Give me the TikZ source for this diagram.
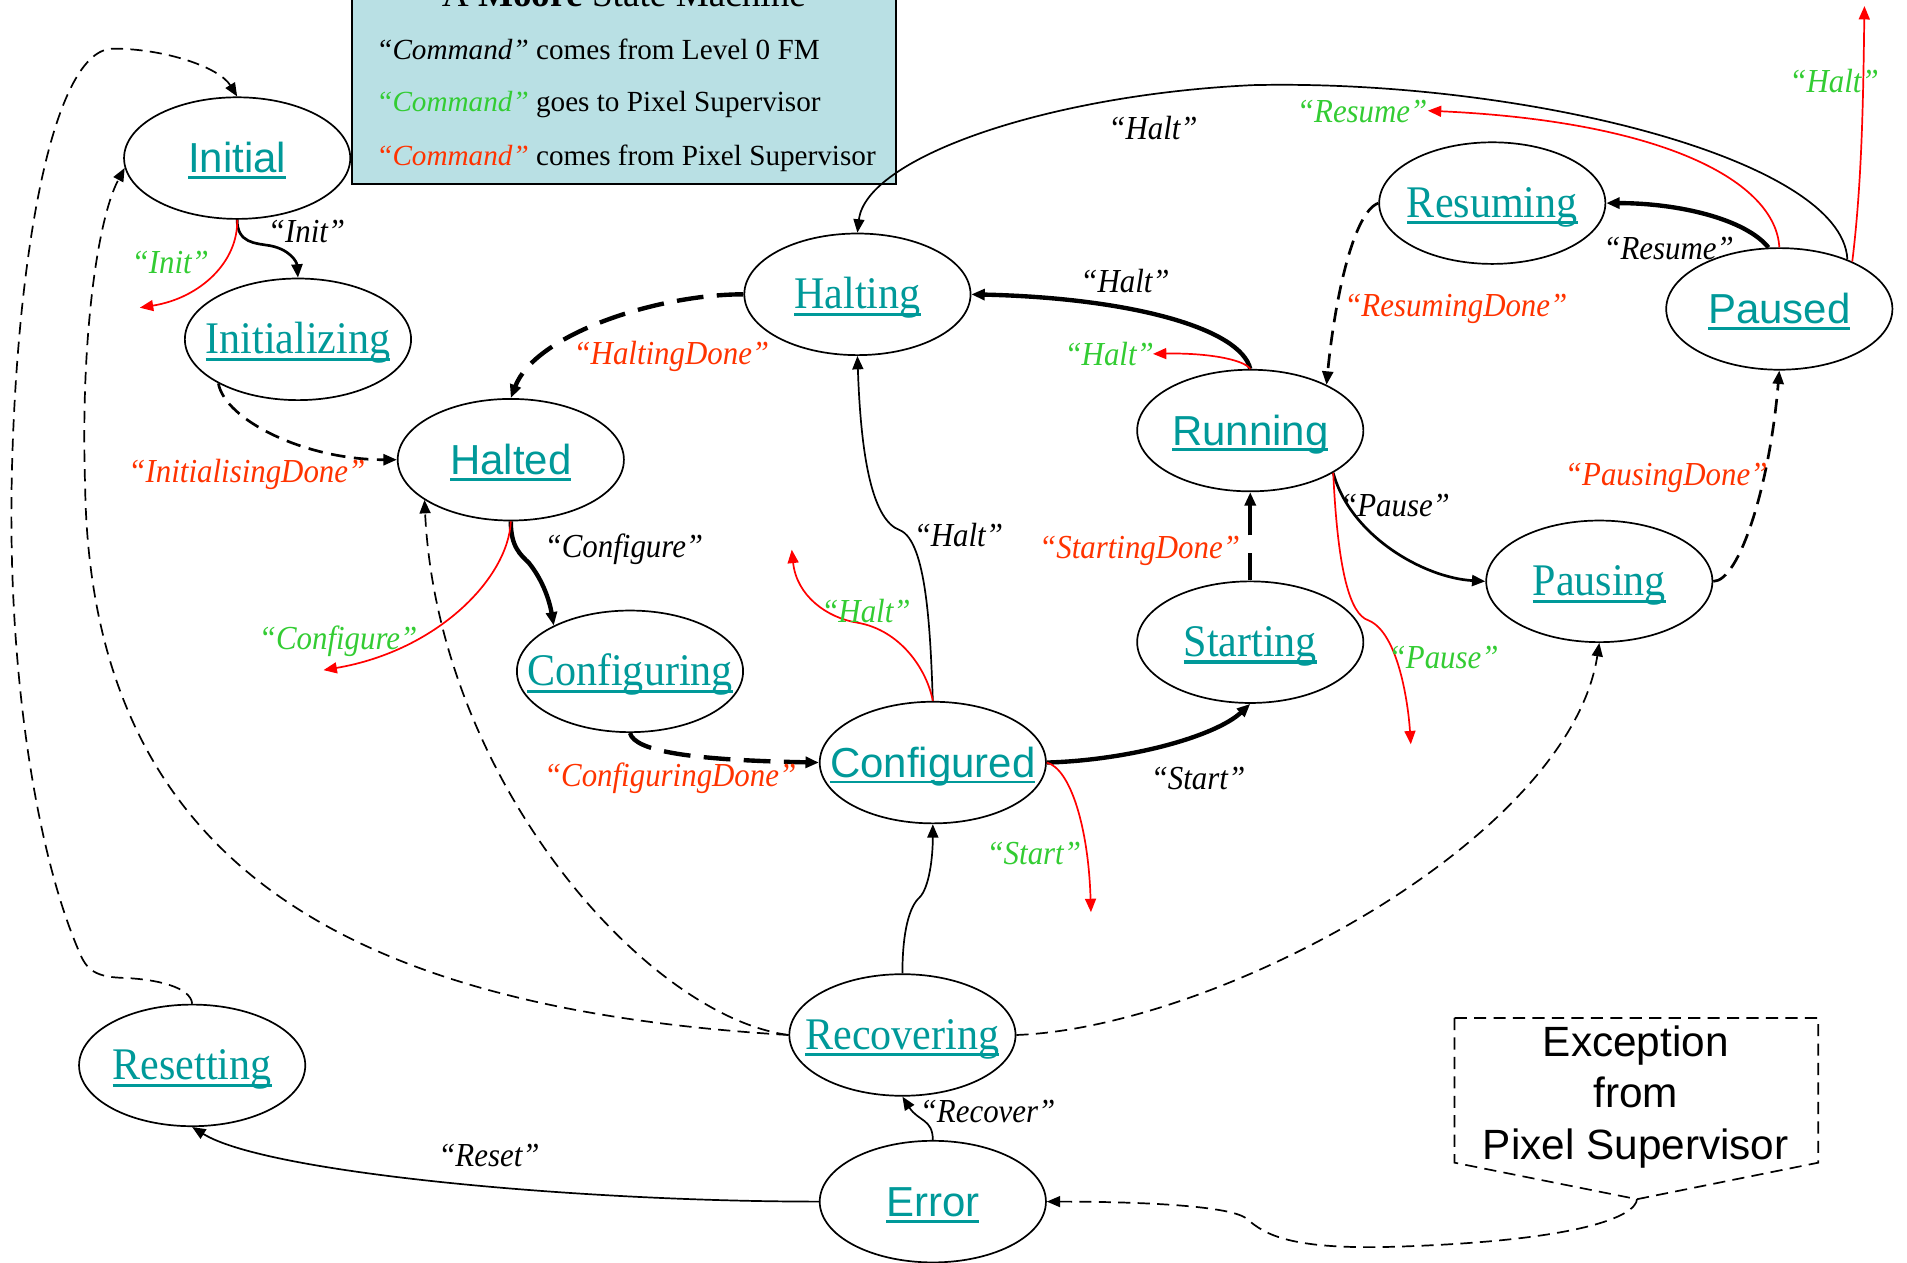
\documentclass[tikz,border=0pt]{standalone}
\usepackage{graphicx}
\usepackage{fontspec}
\setmainfont{Liberation Serif}
\newfontfamily\sansf{Liberation Sans}
\usetikzlibrary{arrows.meta,shapes.geometric}
\definecolor{teal0}{RGB}{0,153,153}
\definecolor{grn}{RGB}{51,204,51}
\definecolor{org}{RGB}{255,51,0}
\definecolor{legfill}{RGB}{185,224,228}
\newcommand\myul[1]{\setbox0\hbox{#1}\rlap{\rule[-0.15em]{\wd0}{0.07em}}\box0}
\newcommand\serlab[1]{\fontsize{18.6}{20}\selectfont\scalebox{0.93}[1]{\myul{#1}}}
\newcommand\sanlab[1]{\sansf\fontsize{17.25}{20}\selectfont\myul{#1}}
\newcommand\elab[1]{\itshape\fontsize{13.8}{16}\selectfont\scalebox{0.92}[1]{#1}}
\tikzset{
  st/.style={ellipse, draw, line width=0.7pt, minimum width=93pt, minimum height=50pt, inner sep=0pt},
  nlab/.style={anchor=base, text=teal0, inner sep=0pt},
  lbl/.style={inner sep=0pt},
  arr/.style={-{Triangle[length=5.5pt,width=4.5pt]}},
  ethin/.style={arr, line width=0.7pt},
  emed/.style={arr, line width=1.1pt},
  ethick/.style={arr, line width=1.8pt},
  edash/.style={arr, line width=0.7pt, dash pattern=on 5pt off 3pt},
  emdash/.style={arr, line width=1.1pt, dash pattern=on 6pt off 3.5pt},
  etdash/.style={arr, line width=1.8pt, dash pattern=on 11pt off 5.5pt},
  ered/.style={arr, red, line width=0.7pt}
}
\begin{document}
\begin{tikzpicture}[x=0.5pt,y=-0.5pt]
\useasboundingbox (0,0) rectangle (1568,1038);

% legend
\node[draw, fill=legfill, line width=0.8pt, minimum width=223.5pt, minimum height=86pt, anchor=south west, inner sep=0pt] (legend) at (289,152) {};
\node[anchor=base, inner sep=0pt] (title) at (513,5) {\fontsize{15.3}{18}\selectfont A \textbf{Moore} State Machine};
\node[anchor=base west, inner sep=0pt] (lg1) at (309,49) {\fontsize{12}{14}\selectfont\textit{“Command”} comes from Level 0 FM};
\node[anchor=base west, inner sep=0pt] (lg2) at (309,92) {\fontsize{12}{14}\selectfont\textcolor{grn}{\textit{“Command”}} goes to Pixel Supervisor};
\node[anchor=base west, inner sep=0pt] (lg3) at (309,136) {\fontsize{12}{14}\selectfont\textcolor{org}{\textit{“Command”}} comes from Pixel Supervisor};

% states
\node[st] (init) at (195,130) {};
\node[st] (initz) at (245,279) {};
\node[st] (halted) at (420,378) {};
\node[st] (halting) at (705,242) {};
\node[st] (cfging) at (518,552) {};
\node[st] (cfged) at (767,627) {};
\node[st] (starting) at (1028,528) {};
\node[st] (running) at (1028,354) {};
\node[st] (resuming) at (1227,167) {};
\node[st] (paused) at (1463,254) {};
\node[st] (pausing) at (1315,478) {};
\node[st] (recov) at (742,851) {};
\node[st] (reset) at (158,876) {};
\node[st] (error) at (767,988) {};

\node[nlab] (init-t) at ([yshift=-6pt]init.center) {\sanlab{Initial}};
\node[nlab] (initz-t) at ([yshift=-6pt]initz.center) {\serlab{Initializing}};
\node[nlab] (halted-t) at ([yshift=-6pt]halted.center) {\sanlab{Halted}};
\node[nlab] (halting-t) at ([yshift=-6pt]halting.center) {\serlab{Halting}};
\node[nlab] (cfging-t) at ([yshift=-6pt]cfging.center) {\serlab{Configuring}};
\node[nlab] (cfged-t) at ([yshift=-6pt]cfged.center) {\sanlab{Configured}};
\node[nlab] (starting-t) at ([yshift=-6pt]starting.center) {\serlab{Starting}};
\node[nlab] (running-t) at ([yshift=-6pt]running.center) {\sanlab{Running}};
\node[nlab] (resuming-t) at ([yshift=-6pt]resuming.center) {\serlab{Resuming}};
\node[nlab] (paused-t) at ([yshift=-6pt]paused.center) {\sanlab{Paused}};
\node[nlab] (pausing-t) at ([yshift=-6pt]pausing.center) {\serlab{Pausing}};
\node[nlab] (recov-t) at ([yshift=-6pt]recov.center) {\serlab{Recovering}};
\node[nlab] (reset-t) at ([yshift=-6pt]reset.center) {\serlab{Resetting}};
\node[nlab] (error-t) at ([yshift=-6pt]error.center) {\sanlab{Error}};

% exception box
\draw[line width=0.7pt, dash pattern=on 5pt off 3pt] (1196,837) -- (1495,837) -- (1495,956) -- (1346,986) coordinate (exctip) -- (1196,956) -- cycle;
\node[align=center, inner sep=0pt, font=\sansf\fontsize{17.4}{21}\selectfont] (exc) at (1345,902) {Exception\\from\\Pixel Supervisor};

% free ends of red arrows
\coordinate (r1) at (115,253);
\coordinate (r2) at (266,551);
\coordinate (r3) at (897,750);
\coordinate (r4) at (651,452);
\coordinate (r5) at (948,291);
\coordinate (r6) at (1160,612);
\coordinate (r7) at (1174,91);
\coordinate (r8) at (1533,5);

% connectors
\draw[emed] (init.south) .. controls (195,200) and (210,200) .. (222,202) .. controls (238,205) and (244,215) .. (initz.north);
\draw[ered] (init.south) .. controls (196,215) and (165,245) .. (r1);
\draw[emdash] (initz.209) .. controls (185,345) and (250,378) .. (halted.west);
\draw[ethick] (halted.south) .. controls (420,450) and (428,456) .. (435,463) .. controls (447,478) and (452,495) .. (cfging.149);
\draw[ered] (halted.south) .. controls (418,475) and (360,535) .. (r2);
\draw[etdash] (cfging.south) .. controls (522,618) and (570,625) .. (cfged.west);
\draw[ethick] (cfged.east) .. controls (930,625) and (1000,605) .. (starting.south);
\draw[ered] (cfged.east) .. controls (880,632) and (895,680) .. (r3);
\draw[ethin] (cfged.north) .. controls (765,520) and (762,445) .. (740,436) .. controls (718,428) and (708,380) .. (halting.south);
\draw[ered] (cfged.north) .. controls (762,550) and (740,518) .. (705,512) .. controls (680,508) and (655,490) .. (r4);
\draw[ethick, dash pattern=on 11.5pt off 7pt on 40pt] (starting.north) -- (running.south);
\draw[ethick] (running.north) .. controls (1020,270) and (930,245) .. (halting.east);
\draw[ered] (running.north) .. controls (1022,295) and (990,290) .. (r5);
\draw[emed] (running.333) .. controls (1110,440) and (1170,475) .. (pausing.west);
\draw[ered] (running.333) .. controls (1100,470) and (1110,505) .. (1125,510) .. controls (1150,520) and (1158,580) .. (r6);
\draw[emdash] (pausing.east) .. controls (1430,478) and (1455,400) .. (paused.south);
\draw[ethick] (paused.100) .. controls (1435,180) and (1380,167) .. (resuming.east);
\draw[ered] (paused.north) .. controls (1460,150) and (1370,100) .. (r7);
\draw[ethin] (paused.36) .. controls (1515,130) and (1250,65) .. (1030,70) .. controls (860,78) and (712,130) .. (halting.north);
\draw[ered] (paused.33) .. controls (1531,150) and (1532,80) .. (r8);
\draw[emdash] (resuming.west) .. controls (1112,175) and (1097,250) .. (running.31);
\draw[ethin] (recov.north) .. controls (742,765) and (748,745) .. (756,738) .. controls (764,730) and (767,705) .. (cfged.south);
\draw[edash] (recov.west) .. controls (530,835) and (360,640) .. (halted.205);
\draw[edash] (recov.west) .. controls (300,830) and (75,720) .. (70,400) .. controls (66,280) and (80,180) .. (init.185);
\draw[edash] (reset.north) .. controls (157,812) and (130,805) .. (100,804) .. controls (75,803) and (70,795) .. (64,780) .. controls (30,700) and (5,550) .. (10,380) .. controls (15,200) and (45,40) .. (93,40) .. controls (135,40) and (180,55) .. (init.north);
\draw[edash] (recov.east) .. controls (1000,845) and (1290,690) .. (pausing.south);
\draw[ethin] (error.north) .. controls (767,920) and (755,922) .. (recov.south);
\draw[ethin] (error.west) .. controls (480,988) and (220,965) .. (reset.south);
\draw[edash] (exctip) .. controls (1345,1000) and (1300,1020) .. (1150,1025) .. controls (1060,1028) and (1040,1015) .. (1025,1002) .. controls (1010,990) and (920,988) .. (error.east);
\draw[etdash] (halting.west) .. controls (540,242) and (440,275) .. (halted.north);

% transition labels
\node[lbl] (l1) at (252,190) {\elab{“Init”}};
\node[lbl, text=grn] (l2) at (140,216) {\elab{“Init”}};
\node[lbl, text=org] (l3) at (203,390) {\elab{“InitialisingDone”}};
\node[lbl] (l4) at (513,452) {\elab{“Configure”}};
\node[lbl, text=grn] (l5) at (278,527) {\elab{“Configure”}};
\node[lbl, text=org] (l6) at (552,293) {\elab{“HaltingDone”}};
\node[lbl, text=org] (l7) at (551,640) {\elab{“ConfiguringDone”}};
\node[lbl] (l8) at (788,440) {\elab{“Halt”}};
\node[lbl, text=grn] (l9) at (712,502) {\elab{“Halt”}};
\node[lbl, text=grn] (l10) at (850,702) {\elab{“Start”}};
\node[lbl] (l11) at (985,640) {\elab{“Start”}};
\node[lbl, text=org] (l12) at (937,453) {\elab{“StartingDone”}};
\node[lbl] (l13) at (925,231) {\elab{“Halt”}};
\node[lbl, text=grn] (l14) at (912,291) {\elab{“Halt”}};
\node[lbl] (l15) at (1147,416) {\elab{“Pause”}};
\node[lbl, text=grn] (l16) at (1187,541) {\elab{“Pause”}};
\node[lbl, text=org] (l17) at (1370,393) {\elab{“PausingDone”}};
\node[lbl, text=org] (l18) at (1197,254) {\elab{“ResumingDone”}};
\node[lbl] (l19) at (1372,204) {\elab{“Resume”}};
\node[lbl, text=grn] (l20) at (1120,92) {\elab{“Resume”}};
\node[lbl, text=grn] (l21) at (1508,67) {\elab{“Halt”}};
\node[lbl] (l22) at (948,105) {\elab{“Halt”}};
\node[lbl] (l23) at (812,914) {\elab{“Recover”}};
\node[lbl] (l24) at (402,950) {\elab{“Reset”}};
\end{tikzpicture}
\end{document}
